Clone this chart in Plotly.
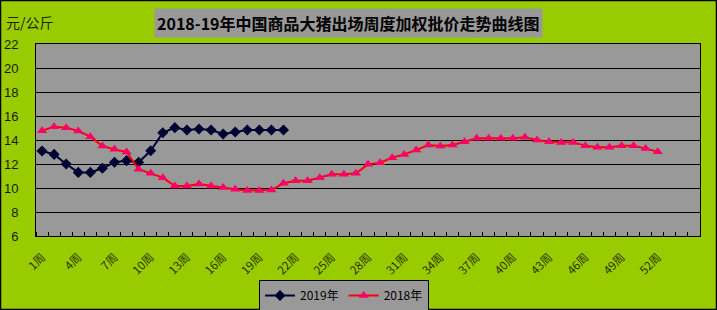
import plotly.graph_objects as go

weeks = list(range(1, 56))
tick_weeks = list(range(1, 53, 3))
tick_labels = [f"{w}周" for w in tick_weeks]

y2019 = [13.08, 12.8, 12.0, 11.3, 11.3, 11.64, 12.14, 12.28, 12.14, 13.1,
         14.6, 15.03, 14.83, 14.92, 14.83, 14.5, 14.67, 14.83, 14.83, 14.83, 14.83]
y2018 = [14.78, 15.11, 15.03, 14.75, 14.28, 13.5, 13.22, 13.0, 11.56, 11.22,
         10.86, 10.17, 10.17, 10.33, 10.17, 10.05, 9.89, 9.8, 9.8, 9.83,
         10.39, 10.6, 10.6, 10.86, 11.14, 11.14, 11.22, 11.97, 12.11, 12.53,
         12.8, 13.17, 13.58, 13.5, 13.58, 13.86, 14.14, 14.14, 14.14, 14.14,
         14.22, 14.0, 13.86, 13.8, 13.8, 13.53, 13.39, 13.39, 13.53, 13.53,
         13.3, 13.03]

W, H = 717, 310
L, R, T, B = 36, 17, 44, 74
pw, ph = W - L - R, H - T - B

def px(x):
    return (x - L) / pw

def py(y):
    return 1 - (y - T) / ph

fig = go.Figure()
fig.add_trace(go.Scatter(
    x=weeks[:len(y2019)], y=y2019, name="2019年", mode="lines+markers",
    line=dict(color="#000033", width=2),
    marker=dict(symbol="diamond", size=8.5, color="#000033"),
))
fig.add_trace(go.Scatter(
    x=weeks[:len(y2018)], y=y2018, name="2018年", mode="lines+markers",
    line=dict(color="#FF0000", width=2),
    marker=dict(symbol="triangle-up", size=9, color="#FF0066"),
))

fig.update_layout(
    width=W, height=H,
    margin=dict(l=L, r=R, t=T, b=B, autoexpand=False),
    paper_bgcolor="#99CC00",
    plot_bgcolor="#999999",
    font=dict(family="Noto Sans CJK SC, Arial", color="#1a1a1a"),
    showlegend=True,
    legend=dict(
        orientation="h", x=px(344), xanchor="center", y=py(280), yanchor="top",
        bgcolor="#999999", bordercolor="#000000", borderwidth=1,
        font=dict(size=12, family="Noto Sans CJK SC", color="#000000"),
        itemwidth=30, tracegroupgap=0,
    ),
    xaxis=dict(
        range=[0.5, 55.5],
        tickmode="array", tickvals=tick_weeks, ticktext=tick_labels,
        tickangle=-45, ticks="", showgrid=False,
        tickfont=dict(size=11.5, color="#2b3300", family="Noto Sans CJK SC"),
        showline=True, linecolor="#000000", linewidth=1, mirror=True,
        ticklabelstandoff=9,
        minor=dict(ticks="inside", tick0=0.5, dtick=1, ticklen=4,
                   tickcolor="#000000", showgrid=False),
        zeroline=False,
    ),
    yaxis=dict(
        range=[6, 22], dtick=2, tick0=6,
        showgrid=True, gridcolor="#000000", gridwidth=1,
        showline=True, linecolor="#000000", linewidth=1, mirror=True,
        ticks="", tickfont=dict(size=13, color="#1a1a1a", family="Arial"),
        ticklabelstandoff=14, zeroline=False,
    ),
    annotations=[
        dict(text="<b>2018-19年中国商品大猪出场周度加权批价走势曲线图</b>",
             x=px(348), y=py(23), xref="paper", yref="paper",
             xanchor="center", yanchor="middle",
             showarrow=False, bgcolor="#999999",
             font=dict(size=16, color="#000000", family="Noto Sans CJK SC"),
             borderpad=2),
        dict(text="元/公斤", x=px(4), y=py(22), xref="paper", yref="paper",
             xanchor="left", yanchor="middle", showarrow=False,
             font=dict(size=14, color="#1a2600", family="Noto Sans CJK SC")),
    ],
    shapes=[
        dict(type="rect", xref="paper", yref="paper",
             x0=px(0.5), x1=px(W - 0.5), y0=py(H - 0.5), y1=py(0.5),
             line=dict(color="#000000", width=1.5)),
    ],
)

fig.write_html("out.html")
